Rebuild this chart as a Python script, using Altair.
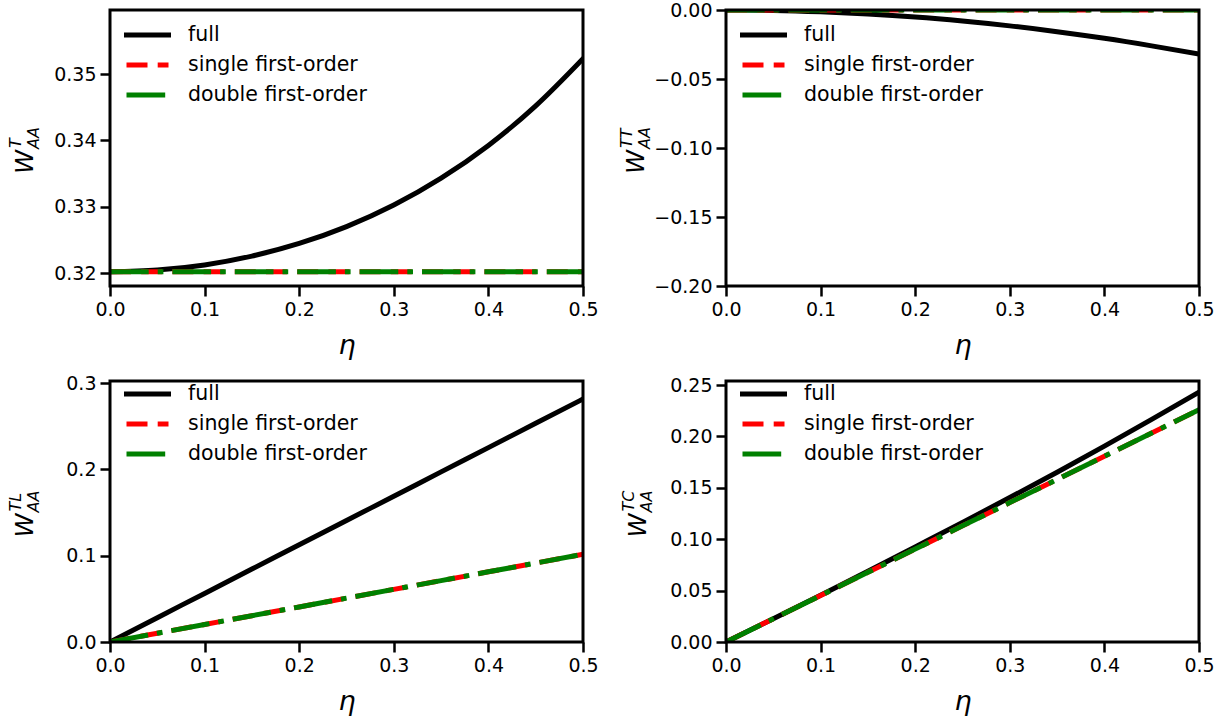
import altair as alt
import pandas as pd

# ---------------- data ----------------
eta = [0.0, 0.05, 0.1, 0.15, 0.2, 0.25, 0.3, 0.35, 0.4, 0.45, 0.5]

# panel 1: W_AA^T
t_full   = [0.3202, 0.32046, 0.32123, 0.32256, 0.32446, 0.32700, 0.33025, 0.33430, 0.33924, 0.34520, 0.35231]
t_single = [0.3202, 0.3202, 0.3202, 0.3202, 0.3202, 0.3202, 0.3202, 0.3202, 0.3202, 0.3202, 0.3202]
t_double = [0.3202, 0.3202, 0.3202, 0.3202, 0.3202, 0.3202, 0.3202, 0.3202, 0.3202, 0.3202, 0.3202]

# panel 2: W_AA^TT
tt_full   = [0.0, -0.0003, -0.0013, -0.0029, -0.0051, -0.0080, -0.0115, -0.0157, -0.0205, -0.0260, -0.0320]
tt_single = [0.0, 0.0, 0.0, 0.0, 0.0, 0.0, 0.0, 0.0, 0.0, 0.0, 0.0]
tt_double = [0.0, 0.0, 0.0, 0.0, 0.0, 0.0, 0.0, 0.0, 0.0, 0.0, 0.0]

# panel 3: W_AA^TL
tl_full   = [0.0, 0.0282, 0.0563, 0.0845, 0.1126, 0.1408, 0.1689, 0.1971, 0.2252, 0.2534, 0.2815]
tl_single = [0.0, 0.0102, 0.0203, 0.0305, 0.0406, 0.0508, 0.0610, 0.0711, 0.0813, 0.0914, 0.1016]
tl_double = [0.0, 0.0102, 0.0203, 0.0305, 0.0406, 0.0508, 0.0610, 0.0711, 0.0813, 0.0914, 0.1016]

# panel 4: W_AA^TC
tc_full   = [0.0, 0.0227, 0.0455, 0.0688, 0.0925, 0.1163, 0.1405, 0.1652, 0.1905, 0.2165, 0.2430]
tc_single = [0.0, 0.0226, 0.0452, 0.0678, 0.0904, 0.1130, 0.1356, 0.1582, 0.1808, 0.2034, 0.2260]
tc_double = [0.0, 0.0226, 0.0452, 0.0678, 0.0904, 0.1130, 0.1356, 0.1582, 0.1808, 0.2034, 0.2260]

legend_labels = ["full", "single first-order", "double first-order"]
x_ticks = [0.0, 0.1, 0.2, 0.3, 0.4, 0.5]

FONT = "DejaVu Sans"
W = 473


def panel(full, single, double, ydom, yticks, yfmt, height, sup, title_x, leg_y0):
    df = pd.DataFrame({"eta": eta, "full": full, "single": single, "double": double})
    xenc = alt.X(
        "eta:Q",
        scale=alt.Scale(domain=[0, 0.5], nice=False, zero=False),
        axis=alt.Axis(values=x_ticks, format=".1f", title="η", titleFontStyle="italic",
                      titleFontSize=27, titleFontWeight="normal", titlePadding=13),
    )
    yscale = alt.Scale(domain=ydom, nice=False, zero=False)
    yaxis = alt.Axis(values=yticks, format=yfmt, title=None)
    base = alt.Chart(df)
    lf = base.mark_line(color="black", strokeWidth=5, clip=True, strokeCap="square",
                        interpolate="monotone").encode(
        x=xenc, y=alt.Y("full:Q", scale=yscale, axis=yaxis))
    ls = base.mark_line(color="red", strokeWidth=5, clip=True, strokeDash=[21, 10.2]).encode(
        x=xenc, y=alt.Y("single:Q", scale=yscale, axis=yaxis))
    ld = base.mark_line(color="green", strokeWidth=5, clip=True, strokeDash=[38.7, 9, 5.7, 9]).encode(
        x=xenc, y=alt.Y("double:Q", scale=yscale, axis=yaxis))

    one = alt.Chart(pd.DataFrame({"k": [0]}))
    layers = [lf, ls, ld]
    styles = [("black", None, 47, 14), ("red", [21, 10.2], 42, 16.5), ("green", [38.7, 9, 5.7, 9], 42, 16.5)]
    for i, (lab, (col, dash, ln, x0)) in enumerate(zip(legend_labels, styles)):
        yy = leg_y0 + 30 * i
        kw = dict(color=col, strokeWidth=5)
        if dash:
            kw["strokeDash"] = dash
        else:
            kw["strokeCap"] = "butt"
        layers.append(one.mark_rule(**kw).encode(
            x=alt.value(x0), x2=alt.value(x0 + ln), y=alt.value(yy)))
        layers.append(one.mark_text(text=lab, font=FONT, fontSize=20.5, align="left",
                                    baseline="middle", color="black").encode(
            x=alt.value(78), y=alt.value(yy)))

    # y-axis title  W^{sup}_{AA}
    cy = height / 2
    layers.append(one.mark_text(text="W", font=FONT, fontSize=24, fontStyle="italic",
                                angle=270, align="right", baseline="middle", dx=-2).encode(
        x=alt.value(title_x), y=alt.value(cy)))
    layers.append(one.mark_text(text=sup, font=FONT, fontSize=16, fontStyle="italic",
                                angle=270, align="left", baseline="middle", dx=0, dy=-10).encode(
        x=alt.value(title_x), y=alt.value(cy)))
    layers.append(one.mark_text(text="AA", font=FONT, fontSize=16, fontStyle="italic",
                                angle=270, align="left", baseline="middle", dx=-1, dy=8).encode(
        x=alt.value(title_x), y=alt.value(cy)))
    # frame on top
    layers.append(one.mark_rect(fill=None, fillOpacity=0, stroke="black", strokeWidth=3).encode(
        x=alt.value(0), x2=alt.value(W), y=alt.value(0), y2=alt.value(height)))
    return alt.layer(*layers).properties(width=W, height=height)


p1 = panel(t_full, t_single, t_double, [0.31805, 0.35965], [0.32, 0.33, 0.34, 0.35], ".2f",
           276, "T", -84, 25)
p2 = panel(tt_full, tt_single, tt_double, [-0.2, 0.0], [-0.2, -0.15, -0.1, -0.05, 0.0], ".2f",
           276, "TT", -89, 25)
p3 = panel(tl_full, tl_single, tl_double, [0.0, 0.3024], [0.0, 0.1, 0.2, 0.3], ".1f",
           261, "TL", -84, 13)
p4 = panel(tc_full, tc_single, tc_double, [0.0, 0.2539], [0.0, 0.05, 0.1, 0.15, 0.2, 0.25], ".2f",
           261, "TC", -87, 13)

chart = alt.concat(p1, p2, p3, p4, columns=2, spacing={"row": 16, "column": 20}).properties(
    padding={"left": 8, "top": 1, "right": 5, "bottom": 5}
).configure_view(
    stroke=None
).configure_axis(
    grid=False, domain=False, tickSize=10, tickWidth=2.5, tickColor="black",
    labelFont=FONT, labelFontSize=19, labelColor="black", labelPadding=4,
    labelFlush=False, labelOverlap=False,
    titleFont=FONT, titleColor="black",
)

chart.save("out.html", embed_options={"renderer": "svg", "actions": False})
